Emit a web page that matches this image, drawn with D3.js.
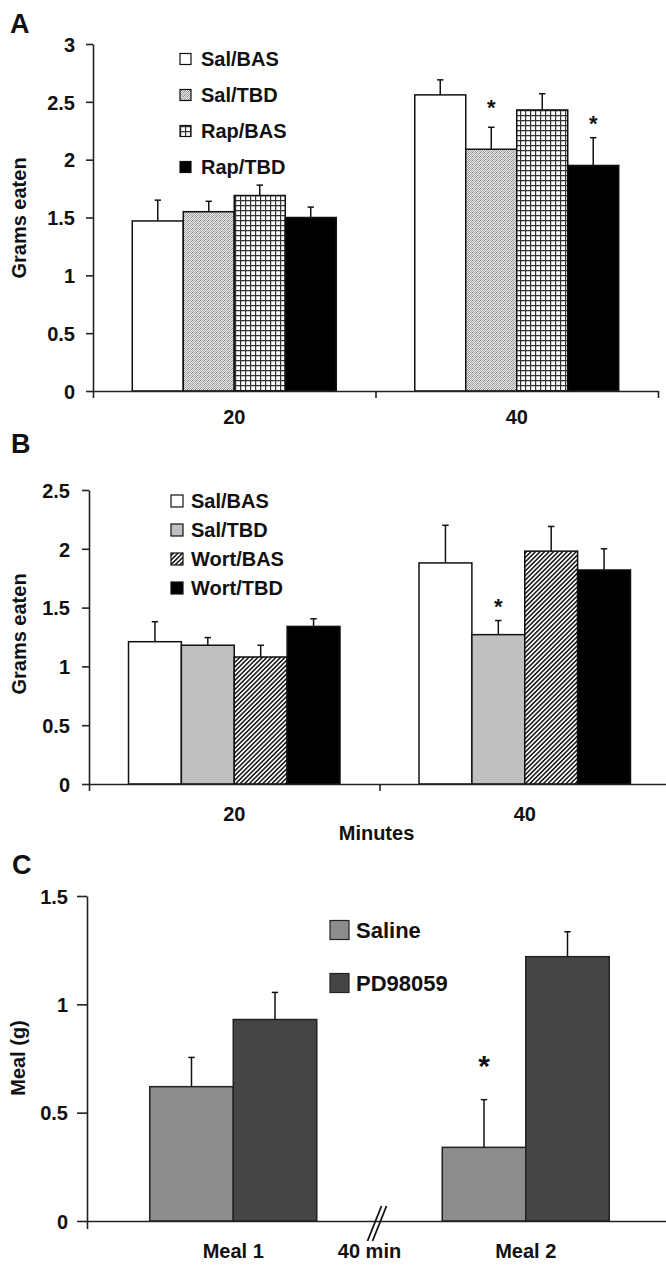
<!DOCTYPE html>
<html><head><meta charset="utf-8">
<script src="https://cdn.jsdelivr.net/npm/d3@7"></script>
<style>
body{margin:0;background:#fff}
svg{display:block}
text{font-family:"Liberation Sans",Arial,Helvetica,sans-serif;font-weight:bold;fill:#111}
</style>
</head><body>
<svg id="c" width="666" height="1271"></svg>
<script>
// ---------- DATA ----------
// Panel A
const catsA = ["20", "40"];
const seriesA = ["Sal/BAS", "Sal/TBD", "Rap/BAS", "Rap/TBD"];
const valuesA = [[1.47, 1.55, 1.69, 1.50], [2.56, 2.09, 2.43, 1.95]];
const errorsA = [[0.18, 0.09, 0.09, 0.09], [0.13, 0.19, 0.14, 0.24]];
const starsA = [[null, null, null, null], [null, 2.50, null, 2.36]];
const yTicksA = [0, 0.5, 1, 1.5, 2, 2.5, 3];

// Panel B
const catsB = ["20", "40"];
const seriesB = ["Sal/BAS", "Sal/TBD", "Wort/BAS", "Wort/TBD"];
const valuesB = [[1.21, 1.18, 1.08, 1.34], [1.88, 1.27, 1.98, 1.82]];
const errorsB = [[0.17, 0.065, 0.10, 0.065], [0.32, 0.12, 0.21, 0.18]];
const starsB = [[null, null, null, null], [null, 1.55, null, null]];
const yTicksB = [0, 0.5, 1, 1.5, 2, 2.5];
const xTitleB = "Minutes";

// Panel C
const catsC = ["Meal 1", "Meal 2"];
const seriesC = ["Saline", "PD98059"];
const valuesC = [[0.62, 0.93], [0.34, 1.22]];
const errorsC = [[0.135, 0.125], [0.22, 0.115]];
const starsC = [[null, null], [0.75, null]];
const yTicksC = [0, 0.5, 1, 1.5];
const gapLabelC = "40 min";

// ---------- DRAWING ----------
const svg = d3.select("#c");
const defs = svg.append("defs");

(function(){
  // fine stipple (checker) texture
  const p = defs.append("pattern").attr("id","stip").attr("width",4).attr("height",4).attr("patternUnits","userSpaceOnUse");
  p.append("rect").attr("width",4).attr("height",4).attr("fill","#e6e6e6");
  [[0,0],[2,0],[1,1],[3,1],[0,2],[2,2],[1,3],[3,3]].forEach(([a,b],k) =>
    p.append("rect").attr("x",a).attr("y",b).attr("width",1).attr("height",1).attr("fill", k%3===0 ? "#8e8e8e" : "#adadad"));
  // grid
  const g = defs.append("pattern").attr("id","grid").attr("width",5).attr("height",5).attr("patternUnits","userSpaceOnUse");
  g.append("rect").attr("width",5).attr("height",5).attr("fill","#fff");
  g.append("path").attr("d","M0,0.6H5M0.6,0V5").attr("stroke","#333").attr("stroke-width",1.2).attr("fill","none");
  // diagonal hatch
  const h = defs.append("pattern").attr("id","hatch").attr("width",3.2).attr("height",4).attr("patternUnits","userSpaceOnUse").attr("patternTransform","rotate(45)");
  h.append("rect").attr("width",3.2).attr("height",4).attr("fill","#fff");
  h.append("rect").attr("width",1.5).attr("height",4).attr("fill","#111");
})();

function panel(o){
  const g = svg.append("g");
  const n = o.cats.length;
  const x0 = d3.scaleBand().domain(o.cats).range(o.xr).paddingInner(o.pad).paddingOuter(o.pad/2);
  const x1 = d3.scaleBand().domain(o.series).range([0, x0.bandwidth()]);
  const y = d3.scaleLinear().domain([0, d3.max(o.ticks)]).range(o.yr);
  const xl = d3.scaleLinear().domain([0, n]).range(o.xr);

  g.append("text").attr("x", o.letterPos[0]).attr("y", o.letterPos[1]).attr("font-size", 27).text(o.letter);

  const rows = [];
  o.cats.forEach((c, i) => o.series.forEach((s, j) => rows.push({c, s, j, v: o.values[i][j], e: o.errors[i][j], st: o.stars[i][j]})));
  const bx = d => x0(d.c) + x1(d.s);
  g.selectAll("rect.bar").data(rows).join("rect").attr("class","bar")
    .attr("x", bx).attr("width", x1.bandwidth())
    .attr("y", d => y(d.v)).attr("height", d => y(0) - y(d.v))
    .attr("fill", d => o.fills[d.j]).attr("stroke", o.barStroke).attr("stroke-width", 1.5);

  const eb = g.selectAll("g.err").data(rows).join("g").attr("class","err")
    .attr("stroke","#111").attr("stroke-width",1.5);
  eb.append("line").attr("x1", d => bx(d) + x1.bandwidth()/2).attr("x2", d => bx(d) + x1.bandwidth()/2)
    .attr("y1", d => y(d.v)).attr("y2", d => y(d.v + d.e));
  eb.append("line").attr("x1", d => bx(d) + x1.bandwidth()/2 - 3.2).attr("x2", d => bx(d) + x1.bandwidth()/2 + 3.2)
    .attr("y1", d => y(d.v + d.e)).attr("y2", d => y(d.v + d.e));

  g.selectAll("text.star").data(rows.filter(d => d.st != null)).join("text").attr("class","star")
    .attr("x", d => bx(d) + x1.bandwidth()/2).attr("y", d => y(d.st) + o.starSize*0.58)
    .attr("text-anchor","middle").attr("font-size", o.starSize).text("*");

  const ya = g.append("g").attr("transform", `translate(${o.xr[0]},0)`)
    .call(d3.axisLeft(y).tickValues(o.ticks).tickFormat(d3.format("")).tickSize(o.tickLen).tickSizeOuter(0).tickPadding(o.tickPad));
  ya.attr("font-family", null).attr("font-size", null);
  ya.selectAll("text").attr("font-size", 20).attr("dy","0.36em");
  ya.selectAll("path,line").attr("stroke","#222").attr("stroke-width",1.6);

  const xa = g.append("g").attr("transform", `translate(0,${o.yr[0]})`)
    .call(d3.axisBottom(xl).tickValues(o.xticks).tickFormat("").tickSize(o.xTickLen).tickSizeOuter(0));
  xa.selectAll("path,line").attr("stroke","#222").attr("stroke-width",1.6);

  g.selectAll("text.cat").data(o.cats).join("text").attr("class","cat")
    .attr("x", d => x0(d) + x0.bandwidth()/2).attr("y", o.catY)
    .attr("text-anchor","middle").attr("font-size",20).text(d => d);

  g.append("text").attr("transform", `translate(${o.yTitlePos[0]},${o.yTitlePos[1]}) rotate(-90)`)
    .attr("text-anchor","middle").attr("font-size",20).text(o.yTitle);

  const lg = g.selectAll("g.leg").data(o.series).join("g").attr("class","leg")
    .attr("transform", (d, i) => `translate(${o.leg.x},${o.leg.y + i*o.leg.dy})`);
  lg.append("rect").attr("x",0).attr("y",-o.leg.sq/2).attr("width",o.leg.sq).attr("height",o.leg.sq)
    .attr("fill", (d, i) => o.fills[i]).attr("stroke", o.barStroke).attr("stroke-width",1.2);
  lg.append("text").attr("x", o.leg.tx).attr("y",0).attr("dy","0.36em").attr("font-size", o.leg.fs).text(d => d);

  return {g, x0, xl, y};
}

panel({
  letter:"A", letterPos:[10,33],
  cats:catsA, series:seriesA, values:valuesA, errors:errorsA, stars:starsA, ticks:yTicksA,
  xr:[93,658], yr:[391,44], pad:0.278, xticks:[0,1,2],
  fills:["#fff","url(#stip)","url(#grid)","#000"], barStroke:"#111",
  tickLen:7, tickPad:11, xTickLen:7, catY:424, starSize:22,
  yTitle:"Grams eaten", yTitlePos:[26,218],
  leg:{x:180, y:59, dy:36, sq:11, tx:21, fs:20}
});

const pB = panel({
  letter:"B", letterPos:[11,453],
  cats:catsB, series:seriesB, values:valuesB, errors:errorsB, stars:starsB, ticks:yTicksB,
  xr:[89,670], yr:[784,490], pad:0.272, xticks:[0,1,2],
  fills:["#fff","#c0c0c0","url(#hatch)","#000"], barStroke:"#111",
  tickLen:7, tickPad:12, xTickLen:7, catY:821, starSize:22,
  yTitle:"Grams eaten", yTitlePos:[26,634],
  leg:{x:171, y:501, dy:29, sq:12, tx:20, fs:20}
});
pB.g.append("text").attr("x", (pB.xl.range()[0]+pB.xl.range()[1])/2 - 3).attr("y", 840)
  .attr("text-anchor","middle").attr("font-size",20).text(xTitleB);

const pC = panel({
  letter:"C", letterPos:[12,874],
  cats:catsC, series:seriesC, values:valuesC, errors:errorsC, stars:starsC, ticks:yTicksC,
  xr:[87,672], yr:[1221,896], pad:0.429, xticks:[0,2],
  fills:["#8c8c8c","#454545"], barStroke:"#222",
  tickLen:10, tickPad:9, xTickLen:8, catY:1258, starSize:30,
  yTitle:"Meal (g)", yTitlePos:[25,1058],
  leg:{x:330, y:930, dy:53, sq:19, tx:26, fs:22}
});
const xb = pC.xl(1) - 2, yb = pC.y(0);
pC.g.selectAll("line.brk").data([0, 5]).join("line").attr("class","brk")
  .attr("x1", d => xb - 10 + d).attr("y1", yb + 20)
  .attr("x2", d => xb + 4 + d).attr("y2", yb - 15)
  .attr("stroke","#111").attr("stroke-width",1.8);
pC.g.append("text").attr("x", pC.xl(1) - 10).attr("y", 1258).attr("text-anchor","middle").attr("font-size",20).text(gapLabelC);
</script>
</body></html>
